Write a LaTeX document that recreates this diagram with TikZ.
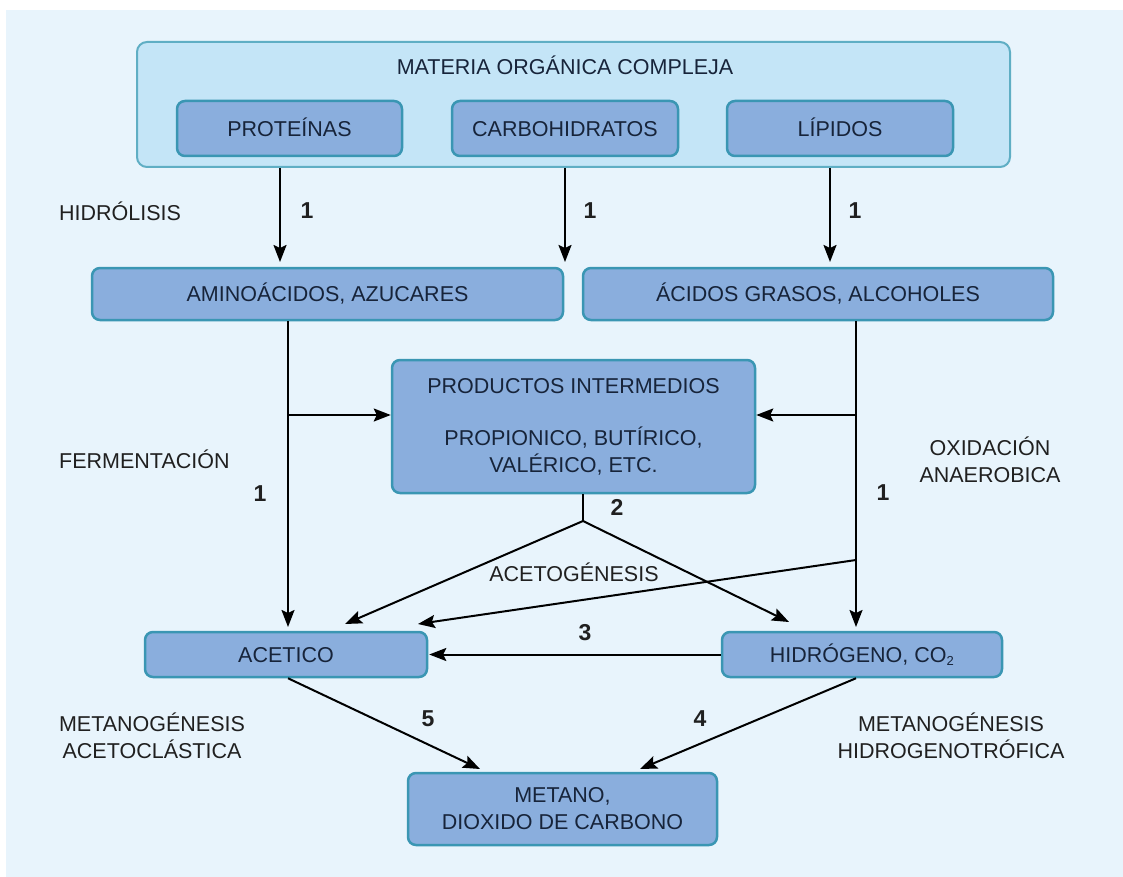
\documentclass[tikz,border=0pt]{standalone}
\usepackage{fontspec}
\setmainfont{Liberation Sans}
\usetikzlibrary{arrows.meta}
\definecolor{bgc}{HTML}{E8F4FC}
\definecolor{outerfill}{HTML}{C4E5F7}
\definecolor{outerline}{HTML}{5FAEC4}
\definecolor{boxfill}{HTML}{8AAEDD}
\definecolor{boxline}{HTML}{3A96B3}
\definecolor{navy}{HTML}{17243A}
\definecolor{labc}{HTML}{202020}
\begin{document}
\begin{tikzpicture}[x=1pt,y=-1pt,
  box/.style={draw=boxline, line width=2.5pt, fill=boxfill, rounded corners=8pt,
    inner sep=0pt, text=navy, font=\fontsize{21.5}{27}\selectfont, align=center},
  oneline/.style={text height=15.5pt, text depth=0pt},
  outerbox/.style={draw=outerline, line width=2pt, fill=outerfill, rounded corners=10pt, inner sep=0pt},
  lab/.style={text=labc, font=\fontsize{21.5}{27}\selectfont, align=center, inner sep=0pt},
  num/.style={text=labc, font=\fontsize{23}{27}\selectfont\bfseries, inner sep=0pt, text height=16.5pt, text depth=0pt},
  ln/.style={line width=2pt, draw=black},
  arr/.style={line width=2pt, draw=black, -{Stealth[length=17pt,width=13pt,inset=3pt]}}
]
\useasboundingbox (0,0) rectangle (1123,877);
\fill[bgc] (6,10) rectangle (1123,877);

% top group
\node[outerbox, minimum width=873pt, minimum height=125pt] (outer) at (573.5,104.5) {};
\node[lab, oneline, text=navy] (title) at (565,67) {MATERIA ORGÁNICA COMPLEJA};
\node[box, oneline, minimum width=225pt, minimum height=55pt] (prot) at (289.5,128.5) {PROTEÍNAS};
\node[box, oneline, minimum width=226pt, minimum height=55pt] (carb) at (565,128.5) {CARBOHIDRATOS};
\node[box, oneline, minimum width=226pt, minimum height=55pt] (lip) at (840,128.5) {LÍPIDOS};

% second row
\node[box, oneline, minimum width=471pt, minimum height=52pt] (amino) at (327.5,294) {AMINOÁCIDOS, AZUCARES};
\node[box, oneline, minimum width=470pt, minimum height=52pt] (acidos) at (818,294) {ÁCIDOS GRASOS, ALCOHOLES};

% intermediate
\node[box, minimum width=363pt, minimum height=133pt] (prod) at (573.5,426.5)
  {PRODUCTOS INTERMEDIOS\\[25pt]PROPIONICO, BUTÍRICO,\\VALÉRICO, ETC.};

% lower row
\node[box, oneline, minimum width=282pt, minimum height=45pt] (acetico) at (286,654.5) {ACETICO};
\node[box, oneline, minimum width=280pt, minimum height=45pt] (hidro) at (862,654.5) {HIDRÓGENO, CO\textsubscript{\fontsize{13}{13}\selectfont 2}};
\node[box, minimum width=309pt, minimum height=72pt] (metano) at (562.5,809) {METANO,\\DIOXIDO DE CARBONO};

% labels
\node[lab, oneline, anchor=west] (hidrol) at (59,213) {HIDRÓLISIS};
\node[lab, oneline, anchor=west] (ferm) at (59,461) {FERMENTACIÓN};
\node[lab] (oxid) at (990,460) {OXIDACIÓN\\ANAEROBICA};
\node[lab, oneline] (acetog) at (574,574) {ACETOGÉNESIS};
\node[lab] (metA) at (152,736) {METANOGÉNESIS\\ACETOCLÁSTICA};
\node[lab] (metH) at (951,736) {METANOGÉNESIS\\HIDROGENOTRÓFICA};

\node[num] (n1a) at (307,210) {1};
\node[num] (n1b) at (590,210) {1};
\node[num] (n1c) at (855,210) {1};
\node[num] (n1d) at (260,493) {1};
\node[num] (n1e) at (883,492) {1};
\node[num] (n2) at (617,507) {2};
\node[num] (n3) at (585,632) {3};
\node[num] (n5) at (428,718) {5};
\node[num] (n4) at (700,718) {4};

% hydrolysis arrows
\coordinate (h1) at (280,262);
\coordinate (h2) at (565,262);
\coordinate (h3) at (830,262);
\draw[arr] (outer.south -| h1) -- (h1);
\draw[arr] (outer.south -| h2) -- (h2);
\draw[arr] (outer.south -| h3) -- (h3);

% fermentation branch
\coordinate (fa) at (288,415);
\coordinate (fae) at (288,627);
\draw[ln] (amino.south -| fa) -- (fa);
\draw[arr] (fa) -- (fae);
\draw[arr] (fa) -- (prod.west |- fa);

% oxidation branch
\coordinate (fb) at (856,415);
\coordinate (fc) at (856,560);
\coordinate (fbe) at (856,627);
\coordinate (fce) at (418,624);
\draw[ln] (acidos.south -| fb) -- (fb);
\draw[arr] (fb) -- (fbe);
\draw[arr] (fb) -- (prod.east |- fb);
\draw[arr] (fc) -- (fce);

% acetogenesis
\coordinate (pj) at (583,521);
\coordinate (pl) at (345,624);
\coordinate (pr) at (789,622);
\draw[ln] (prod.south -| pj) -- (pj);
\draw[arr] (pj) -- (pl);
\draw[arr] (pj) -- (pr);

% 3
\draw[arr, shorten >=1pt] (hidro.west) -- (acetico.east);

% methanogenesis
\coordinate (ma) at (288,677);
\coordinate (mae) at (480,769);
\coordinate (mh) at (856,677);
\coordinate (mhe) at (640,769);
\draw[arr] (acetico.south -| ma) -- (mae);
\draw[arr] (hidro.south -| mh) -- (mhe);
\end{tikzpicture}
\end{document}
